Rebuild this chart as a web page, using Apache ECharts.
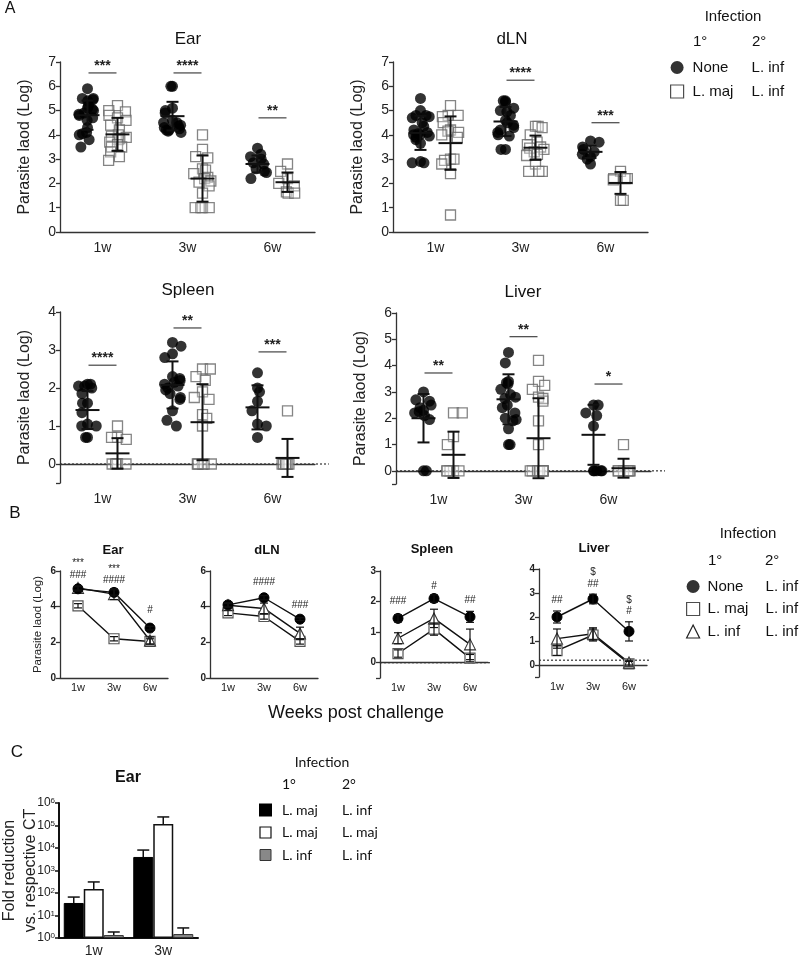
<!DOCTYPE html>
<html>
<head>
<meta charset="utf-8">
<script src="https://cdn.jsdelivr.net/npm/echarts@6/dist/echarts.min.js"></script>
<style>
  html, body { margin: 0; background: #fff; }
  #main { width: 800px; height: 956px; }
</style>
</head>
<body>
<div id="main"></div>
<script>
const FONT = '"Liberation Sans", Arial, Helvetica, sans-serif';
const weeks = ['1w', '3w', '6w'];

// ---- A: single mice, log parasite load, per week [1w, 3w, 6w]
const earNone = [
  [5.9, 5.5, 5.5, 5.45, 5.4, 5.2, 5.1, 5.05, 5.0, 4.9, 4.85, 4.8, 4.7, 4.6, 4.3, 4.1, 4.05, 4.0, 3.8, 3.5],
  [6.0, 6.0, 5.1, 5.0, 4.9, 4.6, 4.5, 4.5, 4.4, 4.35, 4.3, 4.25, 4.2, 4.2, 4.15, 4.1],
  [3.45, 3.2, 3.1, 3.0, 2.85, 2.8, 2.6, 2.5, 2.45, 2.2]
];
const earLmaj = [
  [5.2, 5.0, 4.95, 4.8, 4.7, 4.6, 4.4, 4.2, 4.0, 3.95, 3.9, 3.85, 3.8, 3.7, 3.6, 3.5, 3.5, 3.3, 3.1, 2.95],
  [4.0, 3.4, 3.1, 3.05, 2.6, 2.55, 2.4, 2.25, 2.2, 2.1, 2.05, 1.9, 1.6, 1.0, 1.0, 1.0, 1.0],
  [2.8, 2.5, 2.2, 2.0, 1.9, 1.65, 1.6, 1.6]
];
const dlnNone = [
  [5.5, 5.0, 4.8, 4.8, 4.75, 4.7, 4.5, 4.35, 4.2, 4.1, 4.05, 4.0, 4.0, 3.95, 3.9, 3.8, 3.65, 2.9, 2.85, 2.85],
  [5.4, 5.4, 5.35, 5.1, 5.0, 4.95, 4.8, 4.6, 4.5, 4.4, 4.3, 4.2, 4.1, 4.0, 3.95, 3.4, 3.4],
  [3.75, 3.7, 3.5, 3.4, 3.3, 3.2, 3.1, 3.0, 2.8]
];
const dlnLmaj = [
  [5.2, 4.8, 4.8, 4.75, 4.5, 4.2, 4.15, 4.1, 4.0, 3.9, 3.0, 3.0, 2.95, 2.8, 2.4, 0.7],
  [4.35, 4.35, 4.3, 4.0, 3.7, 3.6, 3.5, 3.45, 3.4, 3.3, 3.2, 3.15, 2.8, 2.5, 2.5, 2.5],
  [2.5, 2.2, 2.2, 2.2, 2.15, 1.3, 1.3]
];
const spleenNone = [
  [2.1, 2.1, 2.05, 2.05, 2.0, 1.85, 1.6, 1.6, 1.35, 1.05, 1.0, 1.0, 0.7, 0.7],
  [3.2, 3.1, 2.9, 2.8, 2.3, 2.25, 2.2, 2.15, 2.1, 2.05, 2.0, 1.95, 1.85, 1.75, 1.7, 1.4, 1.15, 1.0],
  [2.4, 2.0, 1.9, 1.65, 1.4, 1.05, 1.0, 0.7]
];
const spleenLmaj = [
  [1.0, 0.7, 0.7, 0.65, 0, 0, 0, 0, 0],
  [2.5, 2.5, 2.3, 2.2, 1.9, 1.75, 1.7, 1.3, 1.2, 1.0, 0, 0, 0, 0, 0],
  [1.4, 0, 0, 0, 0, 0, 0, 0]
];
const liverNone = [
  [3.0, 2.7, 2.65, 2.5, 2.4, 2.3, 2.25, 2.2, 2.1, 1.95, 0, 0],
  [4.5, 4.1, 3.4, 3.35, 3.3, 3.1, 2.9, 2.8, 2.75, 2.5, 2.4, 2.2, 2.0, 1.95, 1.9, 1.6, 1.0, 1.0],
  [2.5, 2.5, 2.2, 2.1, 1.7, 0, 0, 0, 0, 0]
];
const liverLmaj = [
  [2.2, 2.2, 1.3, 1.0, 0, 0, 0, 0, 0],
  [4.2, 3.4, 3.25, 3.1, 2.8, 2.75, 2.65, 1.9, 1.0, 0, 0, 0, 0, 0, 0, 0, 0, 0],
  [1.0, 0, 0, 0, 0, 0, 0]
];

// A: mean and SD bars as drawn
const earNoneMean = [4.81, 4.77, 2.8], earNoneSd = [0.6, 0.59, 0.35];
const earLmajMean = [4.02, 2.2, 2.05], earLmajSd = [0.68, 0.95, 0.4];
const dlnNoneMean = [4.08, 4.55, 3.3], dlnNoneSd = [0.7, 0.6, 0.25];
const dlnLmajMean = [3.66, 3.47, 2.02], dlnLmajSd = [1.1, 0.5, 0.45];
const spleenNoneMean = [1.42, 2.08, 1.49], spleenNoneSd = [0.5, 0.62, 0.58];
const spleenLmajMean = [0.28, 1.1, 0.16], spleenLmajSd = [0.4, 1.0, 0.5];
const liverNoneMean = [2.0, 2.72, 1.37], liverNoneSd = [0.92, 0.95, 1.14];
const liverLmajMean = [0.61, 1.24, 0.1], liverLmajSd = [0.88, 1.52, 0.36];

// A: significance bars [week, height, label]
const earSig = [[0, 6.55, '***'], [1, 6.55, '****'], [2, 4.7, '**']];
const dlnSig = [[1, 6.25, '****'], [2, 4.5, '***']];
const spleenSig = [[0, 2.6, '****'], [1, 3.58, '**'], [2, 2.95, '***']];
const liverSig = [[0, 3.72, '**'], [1, 5.1, '**'], [2, 3.3, '*']];

// ---- B: group mean and SD over time
const bEarNone = [5.0, 4.8, 2.8], bEarNoneSd = [0.12, 0.15, 0.1];
const bEarLmaj = [4.05, 2.2, 2.05], bEarLmajSd = [0.12, 0.12, 0.15];
const bEarLinf = [5.05, 4.7, 2.1], bEarLinfSd = [0.12, 0.3, 0.2];
const bDlnNone = [4.1, 4.5, 3.3], bDlnNoneSd = [0.12, 0.12, 0.08];
const bDlnLmaj = [3.65, 3.45, 2.05], bDlnLmajSd = [0.15, 0.15, 0.15];
const bDlnLinf = [4.08, 3.9, 2.5], bDlnLinfSd = [0.1, 0.3, 0.35];
const bSpleenNone = [1.45, 2.1, 1.5], bSpleenNoneSd = [0.12, 0.12, 0.18];
const bSpleenLmaj = [0.3, 1.1, 0.15], bSpleenLmajSd = [0.12, 0.2, 0.12];
const bSpleenLinf = [0.8, 1.45, 0.6], bSpleenLinfSd = [0.18, 0.3, 0.5];
const bLiverNone = [2.0, 2.75, 1.4], bLiverNoneSd = [0.25, 0.2, 0.4];
const bLiverLmaj = [0.6, 1.25, 0.05], bLiverLmajSd = [0.2, 0.25, 0.1];
const bLiverLinf = [1.1, 1.3, 0.1], bLiverLinfSd = [0.4, 0.25, 0.1];

// B: significance marks [week, height, label]
const bEarNotes = [[0, 6.45, '***'], [0, 5.75, '###'], [1, 6.1, '***'], [1, 5.5, '####'], [2, 3.8, '#']];
const bDlnNotes = [[1, 5.35, '####'], [2, 4.1, '###']];
const bSpleenNotes = [[0, 2.0, '###'], [1, 2.5, '#'], [2, 2.05, '##']];
const bLiverNotes = [[0, 2.7, '##'], [1, 3.85, '$'], [1, 3.35, '##'], [2, 2.7, '$'], [2, 2.25, '#']];

// ---- C: fold reduction vs respective CT (bar top, error top)
const cWeeks = ['1w', '3w'];
const cMajInf = [36, 4000], cMajInfErr = [66, 8100];
const cMajMaj = [150, 117000], cMajMajErr = [310, 240000];
const cInfInf = [1.35, 1.5], cInfInfErr = [1.85, 2.8];

// ---------------------------------------------------------------
const option = {
  animation: false,
  backgroundColor: '#fff',
  textStyle: { fontFamily: FONT, color: '#222' },
  grid: [], xAxis: [], yAxis: [], series: []
};

function addGrid(rect, xa, ya) {
  const i = option.grid.length;
  option.grid.push(Object.assign({ containLabel: false, outerBoundsMode: 'none' }, rect));
  option.xAxis.push(Object.assign({ gridIndex: i }, xa));
  option.yAxis.push(Object.assign({ gridIndex: i }, ya));
  return i;
}

const AX = { color: '#333', width: 1.3 };

function errBar(halfMean, halfCap, lw) {
  return function (params, api) {
    const x = api.value(0), m = api.value(1), sd = api.value(2);
    const c = api.coord([x, m]);
    const hi = api.coord([x, m + sd])[1];
    const lo = api.coord([x, m - sd])[1];
    const st = { stroke: '#111', lineWidth: lw };
    const kids = [
      { type: 'line', shape: { x1: c[0], y1: hi, x2: c[0], y2: lo }, style: st },
      { type: 'line', shape: { x1: c[0] - halfCap, y1: hi, x2: c[0] + halfCap, y2: hi }, style: st },
      { type: 'line', shape: { x1: c[0] - halfCap, y1: lo, x2: c[0] + halfCap, y2: lo }, style: st }
    ];
    if (halfMean) kids.push({ type: 'line', shape: { x1: c[0] - halfMean, y1: c[1], x2: c[0] + halfMean, y2: c[1] }, style: st });
    return { type: 'group', children: kids };
  };
}

function sigRender(list, withLine, font) {
  return function (params, api) {
    const c = api.coord([api.value(0), api.value(1)]);
    const kids = [{
      type: 'text', x: c[0], y: withLine ? c[1] - 7 : c[1],
      style: { text: list[params.dataIndex][2], font: font, fill: '#222', align: 'center', verticalAlign: 'middle' }
    }];
    if (withLine) kids.push({ type: 'line', shape: { x1: c[0] - 14, y1: c[1], x2: c[0] + 14, y2: c[1] }, style: { stroke: '#444', lineWidth: 1.2 } });
    return { type: 'group', children: kids };
  };
}

function zeroLine(extra) {
  return function (params, api) {
    const y = api.coord([0, api.value(1)])[1];
    const cs = params.coordSys;
    return { type: 'line', shape: { x1: cs.x, y1: y, x2: cs.x + cs.width + extra, y2: y },
      style: { stroke: '#333', lineWidth: 1.2, lineDash: [2, 2] } };
  };
}

function yValueAxis(min, max, interval, fontSize, bold) {
  const ax = {
    type: 'value', min: min, max: max,
    axisLine: { show: true, lineStyle: AX },
    axisTick: { show: true, length: 4, lineStyle: AX },
    axisLabel: { fontSize: fontSize, color: '#222', margin: 4, fontWeight: bold ? 'bold' : 'normal',
      formatter: v => (v < 0 ? '' : String(v)) },
    splitLine: { show: false }
  };
  if (min === 0) ax.interval = interval;
  else ax.splitNumber = Math.round(max - min);
  return ax;
}

// ---------------- Panel A ----------------
const W_A = 255, SHIFT = 15;
const panelsA = [
  { left: 60, top: 62, height: 170, min: 0, max: 7, none: earNone, lmaj: earLmaj,
    nm: earNoneMean, ns: earNoneSd, mm: earLmajMean, ms: earLmajSd, sig: earSig, zero: false },
  { left: 393, top: 62, height: 170, min: 0, max: 7, none: dlnNone, lmaj: dlnLmaj,
    nm: dlnNoneMean, ns: dlnNoneSd, mm: dlnLmajMean, ms: dlnLmajSd, sig: dlnSig, zero: false },
  { left: 60, top: 312, height: 171, min: -0.5, max: 4, none: spleenNone, lmaj: spleenLmaj,
    nm: spleenNoneMean, ns: spleenNoneSd, mm: spleenLmajMean, ms: spleenLmajSd, sig: spleenSig, zero: true },
  { left: 396, top: 313, height: 171, min: -0.5, max: 6, none: liverNone, lmaj: liverLmaj,
    nm: liverNoneMean, ns: liverNoneSd, mm: liverLmajMean, ms: liverLmajSd, sig: liverSig, zero: true }
];

panelsA.forEach(p => {
  const ya = yValueAxis(p.min, p.max, 1, 14, false);
  ya.name = 'Parasite laod (Log)';
  ya.nameLocation = 'middle';
  ya.nameGap = 27;
  ya.nameMoveOverlap = false;
  ya.nameTextStyle = { fontSize: 16, color: '#222' };
  const g = addGrid({ left: p.left, top: p.top, width: W_A, height: p.height }, {
    type: 'category', data: weeks, boundaryGap: true,
    axisLine: { lineStyle: AX }, axisTick: { alignWithLabel: true, length: 4, lineStyle: AX },
    axisLabel: { fontSize: 14, color: '#222', margin: 9 }, splitLine: { show: false }
  }, ya);

  const hidX = { type: 'category', data: weeks, show: false, jitter: 18, jitterOverlap: false, jitterMargin: 0 };
  const hidY = { type: 'value', min: p.min, max: p.max, show: false };
  const gN = addGrid({ left: p.left - SHIFT, top: p.top, width: W_A, height: p.height }, hidX, hidY);
  const gM = addGrid({ left: p.left + SHIFT, top: p.top, width: W_A, height: p.height }, hidX, hidY);

  if (p.zero) {
    option.series.push({ type: 'custom', xAxisIndex: g, yAxisIndex: g, data: [[0, 0]], renderItem: zeroLine(14), z: 1, silent: true });
  }
  option.series.push({
    name: 'None', type: 'scatter', xAxisIndex: gN, yAxisIndex: gN, symbol: 'circle', symbolSize: 11,
    itemStyle: { color: '#000' },
    data: p.none.flatMap((vals, w) => vals.map(v => [w, v]))
  });
  option.series.push({
    name: 'L. maj', type: 'scatter', xAxisIndex: gM, yAxisIndex: gM, symbol: 'rect', symbolSize: 10,
    itemStyle: { color: 'rgba(255,255,255,0.35)', borderColor: '#666', borderWidth: 1.3 },
    data: p.lmaj.flatMap((vals, w) => vals.map(v => [w, v]))
  });
  option.series.push({ type: 'custom', xAxisIndex: gN, yAxisIndex: gN, z: 4, silent: true,
    renderItem: errBar(12, 6, 2), data: p.nm.map((m, i) => [i, m, p.ns[i]]) });
  option.series.push({ type: 'custom', xAxisIndex: gM, yAxisIndex: gM, z: 4, silent: true,
    renderItem: errBar(12, 6, 2), data: p.mm.map((m, i) => [i, m, p.ms[i]]) });
  option.series.push({ type: 'custom', xAxisIndex: g, yAxisIndex: g, silent: true,
    renderItem: sigRender(p.sig, true, 'bold 14px ' + FONT), data: p.sig.map(s => [s[0], s[1]]) });
});

// ---------------- Panel B ----------------
const W_B = 108;
const panelsB = [
  { left: 60, top: 571, height: 107, min: 0, max: 6, interval: 2, yName: true,
    groups: [[bEarLmaj, bEarLmajSd], [bEarLinf, bEarLinfSd], [bEarNone, bEarNoneSd]], notes: bEarNotes, zero: null },
  { left: 210, top: 571, height: 107, min: 0, max: 6, interval: 2, yName: false,
    groups: [[bDlnLmaj, bDlnLmajSd], [bDlnLinf, bDlnLinfSd], [bDlnNone, bDlnNoneSd]], notes: bDlnNotes, zero: null },
  { left: 380, top: 571, height: 107, min: -0.5, max: 3, interval: 1, yName: false,
    groups: [[bSpleenLmaj, bSpleenLmajSd], [bSpleenLinf, bSpleenLinfSd], [bSpleenNone, bSpleenNoneSd]], notes: bSpleenNotes, zero: 0 },
  { left: 539, top: 569, height: 108, min: -0.5, max: 4, interval: 1, yName: false,
    groups: [[bLiverLmaj, bLiverLmajSd], [bLiverLinf, bLiverLinfSd], [bLiverNone, bLiverNoneSd]], notes: bLiverNotes, zero: 0.2 }
];
const bGroupNames = ['L. maj', 'L. inf', 'None'];
const bGroupStyle = {
  'None': { symbol: 'circle', symbolSize: 10, itemStyle: { color: '#000', borderColor: '#000', borderWidth: 1 } },
  'L. maj': { symbol: 'rect', symbolSize: 10, itemStyle: { color: '#fff', borderColor: '#555', borderWidth: 1.2 } },
  'L. inf': { symbol: 'triangle', symbolSize: 11, itemStyle: { color: '#fff', borderColor: '#333', borderWidth: 1.1 } }
};

panelsB.forEach(p => {
  const ya = yValueAxis(p.min, p.max, p.interval, 10, true);
  if (p.yName) {
    ya.name = 'Parasite laod (Log)';
    ya.nameLocation = 'middle';
    ya.nameGap = 16;
    ya.nameMoveOverlap = false;
    ya.nameTextStyle = { fontSize: 11.5, color: '#222' };
  }
  const g = addGrid({ left: p.left, top: p.top, width: W_B, height: p.height }, {
    type: 'category', data: weeks, boundaryGap: true,
    axisLine: { lineStyle: AX }, axisTick: { alignWithLabel: true, length: 3, lineStyle: AX },
    axisLabel: { fontSize: 11, color: '#222', margin: 4 }, splitLine: { show: false }
  }, ya);
  if (p.zero !== null) {
    option.series.push({ type: 'custom', xAxisIndex: g, yAxisIndex: g, data: [[0, p.zero]], renderItem: zeroLine(2), z: 1, silent: true });
  }
  p.groups.forEach((grp, k) => {
    const name = bGroupNames[k];
    option.series.push(Object.assign({
      name: name, type: 'line', xAxisIndex: g, yAxisIndex: g,
      lineStyle: { color: '#111', width: 1.4 }, z: 3, data: grp[0]
    }, bGroupStyle[name]));
    option.series.push({ type: 'custom', xAxisIndex: g, yAxisIndex: g, z: 4, silent: true,
      renderItem: errBar(0, 4, 1.2), data: grp[0].map((m, i) => [i, m, grp[1][i]]) });
  });
  option.series.push({ type: 'custom', xAxisIndex: g, yAxisIndex: g, silent: true,
    renderItem: sigRender(p.notes, false, '10px ' + FONT), data: p.notes.map(s => [s[0], s[1]]) });
});

// ---------------- Panel C ----------------
const gC = addGrid({ left: 59, top: 803, width: 139, height: 135 }, {
  type: 'category', data: cWeeks, boundaryGap: true,
  axisLine: { lineStyle: { color: '#111', width: 2 } },
  axisTick: { alignWithLabel: true, length: 4, lineStyle: { color: '#111', width: 1.5 } },
  axisLabel: { fontSize: 14, color: '#222', margin: 6 }
}, {
  type: 'log', logBase: 10, min: 1, max: 1e6,
  name: 'Fold reduction\nvs. respective CT', nameLocation: 'middle', nameGap: 18, nameMoveOverlap: false,
  nameTextStyle: { fontSize: 16, lineHeight: 21, color: '#222' },
  axisLine: { show: true, lineStyle: { color: '#111', width: 2 } },
  axisTick: { show: true, length: 4, lineStyle: { color: '#111', width: 1.5 } },
  axisLabel: {
    margin: 4,
    formatter: v => '{b|10}{s|' + Math.round(Math.log10(v)) + '}',
    rich: { b: { fontSize: 12, color: '#222', fontFamily: FONT }, s: { fontSize: 8, color: '#222', fontFamily: FONT, verticalAlign: 'top' } }
  },
  splitLine: { show: false }
});
const cSeries = [
  { name: 'L. maj / L. inf', vals: cMajInf, err: cMajInfErr, style: { color: '#000', borderColor: '#000', borderWidth: 1 } },
  { name: 'L. maj / L. maj', vals: cMajMaj, err: cMajMajErr, style: { color: '#fff', borderColor: '#111', borderWidth: 1.5 } },
  { name: 'L. inf / L. inf', vals: cInfInf, err: cInfInfErr, style: { color: '#888', borderColor: '#333', borderWidth: 1 } }
];
const C_BAR = 20;
cSeries.forEach((s, k) => {
  option.series.push({ name: s.name, type: 'bar', xAxisIndex: gC, yAxisIndex: gC,
    barWidth: C_BAR, barGap: '0%', itemStyle: s.style, data: s.vals });
  const off = (k - 1) * C_BAR;
  option.series.push({ type: 'custom', xAxisIndex: gC, yAxisIndex: gC, silent: true, z: 1,
    data: s.vals.map((v, i) => [i, v, s.err[i]]),
    renderItem: (params, api) => {
      const b = api.coord([api.value(0), api.value(1)]);
      const t = api.coord([api.value(0), api.value(2)]);
      const x = b[0] + off;
      const st = { stroke: '#111', lineWidth: 1.5 };
      return { type: 'group', children: [
        { type: 'line', shape: { x1: x, y1: b[1], x2: x, y2: t[1] }, style: st },
        { type: 'line', shape: { x1: x - 6, y1: t[1], x2: x + 6, y2: t[1] }, style: st }
      ] };
    }
  });
});

// ---------------- legends ----------------
const legendText = (pad, w, size, fam) => ({
  fontSize: size, color: '#111', fontFamily: fam,
  rich: { a: { fontSize: size, fontFamily: fam, color: '#111', width: w, padding: [0, 0, 0, pad] },
          b: { fontSize: size, fontFamily: fam, color: '#111' } }
});
const iconNone = { name: 'None', icon: 'circle', itemStyle: { color: '#000', borderWidth: 0 } };
const iconMaj = { name: 'L. maj', icon: 'rect', itemStyle: { color: '#fff', borderColor: '#222', borderWidth: 1.2 } };
const iconInf = { name: 'L. inf', icon: 'triangle', itemStyle: { color: '#fff', borderColor: '#222', borderWidth: 1.2 } };
option.legend = [
  { left: 670, top: 60, padding: 0, orient: 'vertical', itemWidth: 13, itemHeight: 13, itemGap: 9, selectedMode: false,
    lineStyle: { width: 0, opacity: 0 }, data: [iconNone, iconMaj],
    formatter: n => '{a|' + n + '}{b|L. inf}', textStyle: legendText(4, 59, 15, FONT) },
  { left: 686, top: 579, padding: 0, orient: 'vertical', itemWidth: 13, itemHeight: 13, itemGap: 7.5, selectedMode: false,
    lineStyle: { width: 0, opacity: 0 }, data: [iconNone, iconMaj, iconInf],
    formatter: n => '{a|' + n + '}{b|L. inf}', textStyle: legendText(3, 58, 15, FONT) },
  { left: 259, top: 803, padding: 0, orient: 'vertical', itemWidth: 11, itemHeight: 11, itemGap: 8.5, selectedMode: false,
    data: [
      { name: cSeries[0].name, icon: 'rect', itemStyle: { color: '#000' } },
      { name: cSeries[1].name, icon: 'rect', itemStyle: { color: '#fff', borderColor: '#111', borderWidth: 1.2 } },
      { name: cSeries[2].name, icon: 'rect', itemStyle: { color: '#888', borderColor: '#333', borderWidth: 1 } }
    ],
    formatter: n => { const p = n.split(' / '); return '{a|' + p[0] + '}{b|' + p[1] + '}'; },
    textStyle: legendText(6, 60, 14, 'Lato') }
];

// ---------------- free text ----------------
const txt = (text, x, y, font, align) => ({
  type: 'text', x: x, y: y, silent: true,
  style: { text: text, font: font, fill: '#111', align: align || 'center', verticalAlign: 'middle' }
});
option.graphic = { elements: [
  txt('A', 10, 9, '16px ' + FONT),
  txt('B', 15, 513, '17px ' + FONT),
  txt('C', 17, 752, '17px ' + FONT),
  txt('Ear', 188, 39, '17px ' + FONT),
  txt('dLN', 512, 39, '17px ' + FONT),
  txt('Spleen', 188, 290, '17px ' + FONT),
  txt('Liver', 523, 292, '17px ' + FONT),
  txt('Ear', 113, 550, 'bold 13px ' + FONT),
  txt('dLN', 267, 550, 'bold 13px ' + FONT),
  txt('Spleen', 432, 549, 'bold 13px ' + FONT),
  txt('Liver', 594, 548, 'bold 13px ' + FONT),
  txt('Weeks post challenge', 356, 713, '18px ' + FONT),
  txt('Ear', 128, 778, 'bold 16px ' + FONT),
  txt('Infection', 733, 17, '15px ' + FONT),
  txt('1°', 693, 42, '15px ' + FONT, 'left'),
  txt('2°', 752, 42, '15px ' + FONT, 'left'),
  txt('Infection', 748, 534, '15px ' + FONT),
  txt('1°', 708, 561, '15px ' + FONT, 'left'),
  txt('2°', 765, 561, '15px ' + FONT, 'left'),
  txt('Infection', 322, 762, '14px Lato'),
  txt('1°', 282, 784, '14px Lato', 'left'),
  txt('2°', 342, 784, '14px Lato', 'left')
] };

const chart = echarts.init(document.getElementById('main'), null, { renderer: 'canvas' });
chart.setOption(option);
</script>
</body>
</html>
